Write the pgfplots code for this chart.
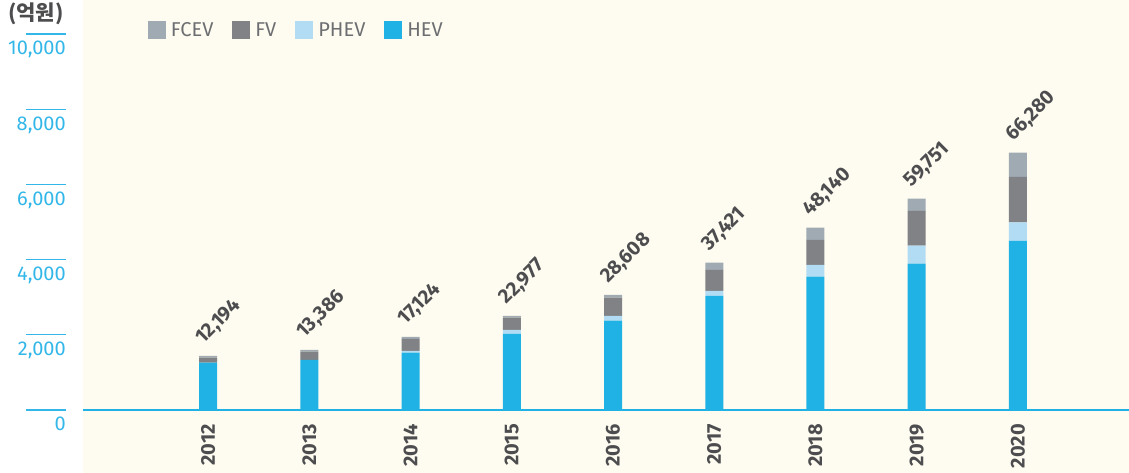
\documentclass[border=0pt]{standalone}
\usepackage{fontspec}
\setmainfont{Fira Sans}
\newfontfamily\krfont{Noto Sans CJK KR}
\usepackage{pgfplots}
\usepackage{pgfplotstable}
\pgfplotsset{compat=1.18}
\definecolor{hev}{HTML}{20B1E5}
\definecolor{phev}{HTML}{B2DCF3}
\definecolor{fv}{HTML}{808285}
\definecolor{fcev}{HTML}{A0AAB2}
\definecolor{bgcream}{HTML}{FEFCF0}
\definecolor{tickblue}{HTML}{33B7E8}
\definecolor{txtgray}{HTML}{4D4D4F}
\definecolor{legtxt}{HTML}{6D6E71}
\pgfplotstableread{
x HEV PHEV FV FCEV
0 1258 0 133 45
1 1330 0 221 45
2 1525 44 319 53
3 2021 107 328 44
4 2376 124 488 71
5 3032 133 558 195
6 3546 310 665 328
7 3892 479 922 328
8 4495 496 1206 646
}\evtable
\tikzset{
  vallab/.style={rotate=45, anchor=base west, inner sep=0pt, text=txtgray, font=\bfseries\fontsize{20}{22}\selectfont},
  yearlab/.style={rotate=90, anchor=east, inner sep=0pt, text=txtgray, font=\bfseries\fontsize{20}{22}\selectfont},
  ticklab/.style={anchor=base east, inner sep=0pt, text=tickblue, font=\fontsize{20}{22}\selectfont},
}
\begin{document}
\begin{tikzpicture}
\useasboundingbox (0,0) rectangle (1129pt,473pt);
\fill[bgcream] (83pt,0pt) rectangle (1129pt,473pt);
\node[font=\krfont\bfseries\fontsize{21}{24}\selectfont, text=txtgray, inner sep=0pt] at (36pt,459pt) {(억원)};
\begin{axis}[
  at={(83pt,0pt)}, anchor=south west,
  scale only axis, width=1046pt, height=473pt,
  xmin=-1.235, xmax=9.096, ymin=-1676, ymax=10904,
  hide axis, clip=false,
  ybar stacked, bar width=18pt,
  reverse legend,
  legend columns=4,
  legend image code/.code={\fill[#1] (0pt,-9pt) rectangle (18pt,9pt);},
  legend style={at={(0.059,0.962)}, anchor=north west, draw=none, fill=none,
    font=\fontsize{20}{22}\selectfont, text=legtxt,
    /tikz/every odd column/.append style={column sep=3pt},
    /tikz/every even column/.append style={column sep=17pt}},
]
\addplot[fill=hev, draw=none] table[x=x,y=HEV]{\evtable};
\addplot[fill=phev, draw=none] table[x=x,y=PHEV]{\evtable};
\addplot[fill=fv, draw=none] table[x=x,y=FV]{\evtable};
\addplot[fill=fcev, draw=none] table[x=x,y=FCEV]{\evtable};
\legend{HEV,PHEV,FV,FCEV}
\draw[color=hev, line width=2.5pt] (axis cs:-1.235,0) -- (axis cs:9.096,0);
\draw[tickblue, line width=1.2pt] ([xshift=-57pt]axis cs:-1.235,0) -- ([xshift=-17pt]axis cs:-1.235,0);
\draw[tickblue, line width=1.2pt] ([xshift=-57pt]axis cs:-1.235,2000) -- ([xshift=-17pt]axis cs:-1.235,2000);
\draw[tickblue, line width=1.2pt] ([xshift=-57pt]axis cs:-1.235,4000) -- ([xshift=-17pt]axis cs:-1.235,4000);
\draw[tickblue, line width=1.2pt] ([xshift=-57pt]axis cs:-1.235,6000) -- ([xshift=-17pt]axis cs:-1.235,6000);
\draw[tickblue, line width=1.2pt] ([xshift=-57pt]axis cs:-1.235,8000) -- ([xshift=-17pt]axis cs:-1.235,8000);
\draw[tickblue, line width=1.2pt] ([xshift=-57pt]axis cs:-1.235,10000) -- ([xshift=-17pt]axis cs:-1.235,10000);
\node[ticklab] at ([xshift=-17pt,yshift=-21pt]axis cs:-1.235,0) {0};
\node[ticklab] at ([xshift=-17pt,yshift=-21pt]axis cs:-1.235,2000) {2,000};
\node[ticklab] at ([xshift=-17pt,yshift=-21pt]axis cs:-1.235,4000) {4,000};
\node[ticklab] at ([xshift=-17pt,yshift=-21pt]axis cs:-1.235,6000) {6,000};
\node[ticklab] at ([xshift=-17pt,yshift=-21pt]axis cs:-1.235,8000) {8,000};
\node[ticklab] at ([xshift=-17pt,yshift=-21pt]axis cs:-1.235,10000) {10,000};
\node[vallab] at ([xshift=-5pt,yshift=11pt]axis cs:0,1436) {12,194};
\node[vallab] at ([xshift=-5pt,yshift=11pt]axis cs:1,1596) {13,386};
\node[vallab] at ([xshift=-5pt,yshift=11pt]axis cs:2,1941) {17,124};
\node[vallab] at ([xshift=-5pt,yshift=11pt]axis cs:3,2500) {22,977};
\node[vallab] at ([xshift=-5pt,yshift=11pt]axis cs:4,3059) {28,608};
\node[vallab] at ([xshift=-5pt,yshift=11pt]axis cs:5,3918) {37,421};
\node[vallab] at ([xshift=-5pt,yshift=11pt]axis cs:6,4849) {48,140};
\node[vallab] at ([xshift=-5pt,yshift=11pt]axis cs:7,5621) {59,751};
\node[vallab] at ([xshift=-5pt,yshift=11pt]axis cs:8,6843) {66,280};
\node[yearlab] at ([yshift=-14pt]axis cs:0,0) {2012};
\node[yearlab] at ([yshift=-14pt]axis cs:1,0) {2013};
\node[yearlab] at ([yshift=-14pt]axis cs:2,0) {2014};
\node[yearlab] at ([yshift=-14pt]axis cs:3,0) {2015};
\node[yearlab] at ([yshift=-14pt]axis cs:4,0) {2016};
\node[yearlab] at ([yshift=-14pt]axis cs:5,0) {2017};
\node[yearlab] at ([yshift=-14pt]axis cs:6,0) {2018};
\node[yearlab] at ([yshift=-14pt]axis cs:7,0) {2019};
\node[yearlab] at ([yshift=-14pt]axis cs:8,0) {2020};
\end{axis}
\end{tikzpicture}
\end{document}
